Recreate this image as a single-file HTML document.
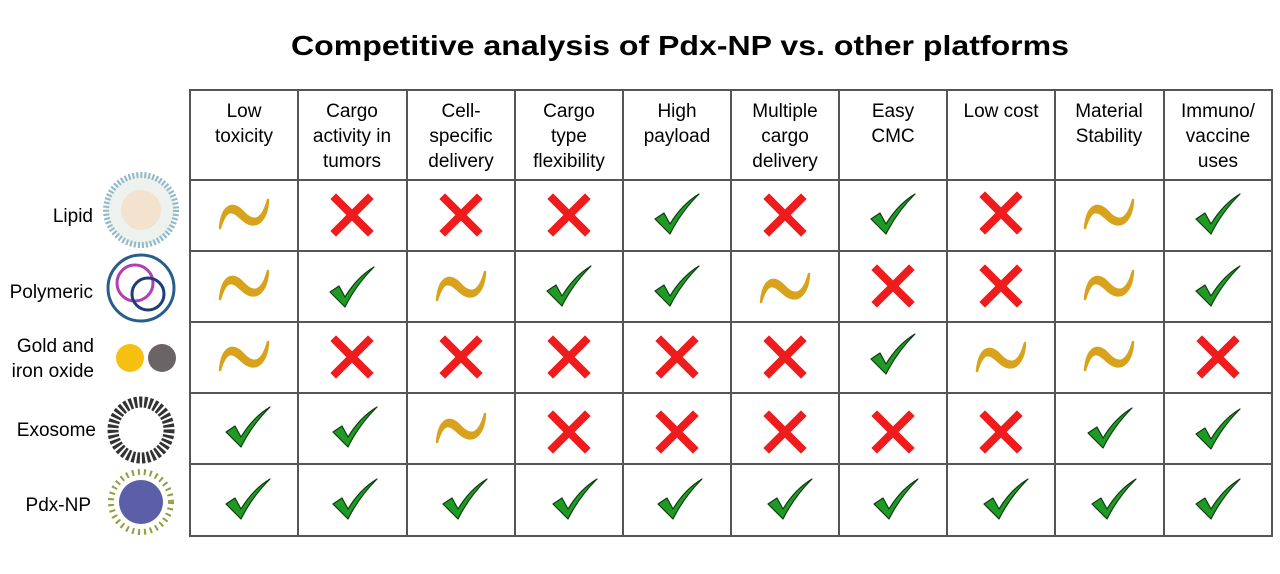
<!DOCTYPE html>
<html><head><meta charset="utf-8"><style>
html,body{margin:0;padding:0;background:#fff;}
svg{display:block;}
text{font-family:"Liberation Sans",sans-serif;fill:#000;}
</style></head><body>
<svg width="1280" height="574" viewBox="0 0 1280 574" xmlns="http://www.w3.org/2000/svg">
<defs>
<g id="C"><path d="M-22,4 L-13,-2 L-7,9 C2,-6 12,-15 22,-21 C10,-9 0,5 -7,19 Z" fill="#1f9a24" stroke="#0d3d10" stroke-width="1.2" stroke-linejoin="round"/></g>
<g id="X"><path d="M-16,-16 L16,16 M16,-16 L-16,16" stroke="#ee1c1c" stroke-width="8" stroke-linecap="square"/></g>
<g id="T"><path d="M-24,14 C-22,-8 -12,-14 -1,-2 C9,9 18,8 24,-14 C23,6 12,18 -2,5 C-12,-5 -18,-6 -24,14 Z" fill="#d8a21c" stroke="#d8a21c" stroke-width="2.5" stroke-linejoin="round"/></g>
</defs>
<text x="680" y="55" text-anchor="middle" font-size="28" font-weight="bold" textLength="778" lengthAdjust="spacingAndGlyphs">Competitive analysis of Pdx-NP vs. other platforms</text>
<g stroke="#555" stroke-width="2" fill="none">
<rect x="190" y="90" width="1082" height="446"/>
<line x1="190" y1="180" x2="1272" y2="180"/>
<line x1="190" y1="251" x2="1272" y2="251"/>
<line x1="190" y1="322" x2="1272" y2="322"/>
<line x1="190" y1="393" x2="1272" y2="393"/>
<line x1="190" y1="464" x2="1272" y2="464"/>
<line x1="298" y1="90" x2="298" y2="536"/>
<line x1="407" y1="90" x2="407" y2="536"/>
<line x1="515" y1="90" x2="515" y2="536"/>
<line x1="623" y1="90" x2="623" y2="536"/>
<line x1="731" y1="90" x2="731" y2="536"/>
<line x1="839" y1="90" x2="839" y2="536"/>
<line x1="947" y1="90" x2="947" y2="536"/>
<line x1="1055" y1="90" x2="1055" y2="536"/>
<line x1="1164" y1="90" x2="1164" y2="536"/>
</g>
<g font-size="19" text-anchor="middle">
<text x="244" y="117">Low</text><text x="244" y="142">toxicity</text>
<text x="352" y="117">Cargo</text><text x="352" y="142">activity in</text><text x="352" y="167">tumors</text>
<text x="461" y="117">Cell-</text><text x="461" y="142">specific</text><text x="461" y="167">delivery</text>
<text x="569" y="117">Cargo</text><text x="569" y="142">type</text><text x="569" y="167">flexibility</text>
<text x="677" y="117">High</text><text x="677" y="142">payload</text>
<text x="785" y="117">Multiple</text><text x="785" y="142">cargo</text><text x="785" y="167">delivery</text>
<text x="893" y="117">Easy</text><text x="893" y="142">CMC</text>
<text x="1001" y="117">Low cost</text>
<text x="1109" y="117">Material</text><text x="1109" y="142">Stability</text>
<text x="1218" y="117">Immuno/</text><text x="1218" y="142">vaccine</text><text x="1218" y="167">uses</text>
</g>
<g font-size="19" text-anchor="end">
<text x="93" y="222">Lipid</text>
<text x="93" y="298">Polymeric</text>
<text x="94" y="352">Gold and</text><text x="94" y="377">iron oxide</text>
<text x="96" y="436">Exosome</text>
<text x="91" y="511">Pdx-NP</text>
</g>
<circle cx="141" cy="210" r="35" fill="#eef2ee" stroke="#8fb8c8" stroke-width="6" stroke-dasharray="2 2"/>
<circle cx="141" cy="210" r="20" fill="#f3dcc0" opacity="0.7"/>
<circle cx="141" cy="288" r="33" fill="#fff" stroke="#2a5e8a" stroke-width="3"/>
<circle cx="135" cy="283" r="18" fill="none" stroke="#b040b0" stroke-width="3"/>
<circle cx="148" cy="294" r="16" fill="none" stroke="#1e3c7c" stroke-width="3"/>
<circle cx="130" cy="358" r="14" fill="#f5c010"/>
<circle cx="162" cy="358" r="14" fill="#6b6466"/>
<circle cx="141" cy="430" r="28" fill="none" stroke="#333" stroke-width="11" stroke-dasharray="3 2"/>
<circle cx="141" cy="502" r="22" fill="#5a5fa8"/>
<circle cx="141" cy="502" r="30" fill="none" stroke="#8ca040" stroke-width="6" stroke-dasharray="2 4"/>
<g>
<use href="#T" x="244" y="214"/><use href="#X" x="352" y="215"/><use href="#X" x="461" y="215"/><use href="#X" x="569" y="215"/><use href="#C" x="677" y="215"/><use href="#X" x="785" y="215"/><use href="#C" x="893" y="215"/><use href="#X" x="1001" y="213"/><use href="#T" x="1109" y="214"/><use href="#C" x="1218" y="215"/>
<use href="#T" x="244" y="285"/><use href="#C" x="352" y="288"/><use href="#T" x="461" y="286"/><use href="#C" x="569" y="287"/><use href="#C" x="677" y="287"/><use href="#T" x="785" y="288"/><use href="#X" x="893" y="286"/><use href="#X" x="1001" y="286"/><use href="#T" x="1109" y="285"/><use href="#C" x="1218" y="287"/>
<use href="#T" x="244" y="356"/><use href="#X" x="352" y="357"/><use href="#X" x="461" y="357"/><use href="#X" x="569" y="357"/><use href="#X" x="677" y="357"/><use href="#X" x="785" y="357"/><use href="#C" x="893" y="355"/><use href="#T" x="1001" y="357"/><use href="#T" x="1109" y="356"/><use href="#X" x="1218" y="357"/>
<use href="#C" x="248" y="428"/><use href="#C" x="355" y="428"/><use href="#T" x="461" y="428"/><use href="#X" x="569" y="432"/><use href="#X" x="677" y="432"/><use href="#X" x="785" y="432"/><use href="#X" x="893" y="432"/><use href="#X" x="1001" y="432"/><use href="#C" x="1110" y="429"/><use href="#C" x="1218" y="430"/>
<use href="#C" x="248" y="500"/><use href="#C" x="355" y="500"/><use href="#C" x="465" y="500"/><use href="#C" x="575" y="500"/><use href="#C" x="680" y="500"/><use href="#C" x="790" y="500"/><use href="#C" x="896" y="500"/><use href="#C" x="1006" y="500"/><use href="#C" x="1114" y="500"/><use href="#C" x="1218" y="500"/>
</g>
</svg>
</body></html>
